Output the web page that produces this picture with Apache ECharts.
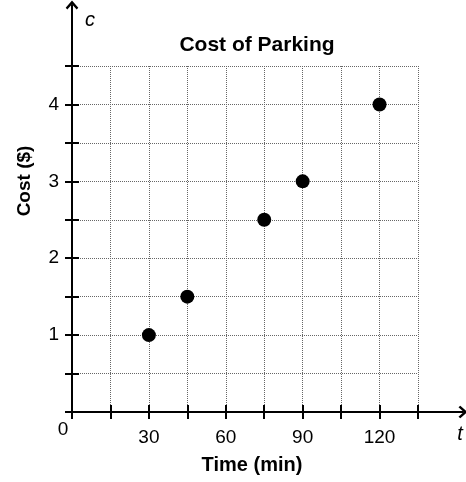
<!DOCTYPE html>
<html>
<head>
<meta charset="utf-8">
<script src="https://cdn.jsdelivr.net/npm/echarts@6/dist/echarts.min.js"></script>
<style>
html,body{margin:0;padding:0;background:#fff;}
#c{width:466px;height:482px;}
</style>
</head>
<body>
<div id="c"></div>
<script>
const timeMin = [30, 45, 75, 90, 120];
const costDollars = [1, 1.5, 2.5, 3, 4];
const xLabels = [30, 60, 90, 120];
const yLabels = [1, 2, 3, 4];

const FONT = '"Liberation Sans", Arial, sans-serif';
const chart = echarts.init(document.getElementById('c'), null, {renderer: 'canvas'});

const gridLine = {show: true, lineStyle: {color: '#666', type: [1, 1], width: 1}};
// open chevron arrow head (pointing up; ECharts rotates it along the axis)
const chevron = 'path://M0,8 L7,0 L14,8 L12.2,10 L7,4.2 L1.8,10 Z';

chart.setOption({
  animation: false,
  backgroundColor: '#fff',
  title: {
    text: 'Cost of Parking',
    left: 252, top: 30, textAlign: 'center',
    textStyle: {fontFamily: FONT, fontWeight: 'bold', fontSize: 21, color: '#000'}
  },
  grid: [
    {left: 72, right: 48, top: 66, bottom: 70, outerBoundsMode: 'none', containLabel: false},
    {left: 72, right: 3, top: 5, bottom: 70, outerBoundsMode: 'none', containLabel: false}
  ],
  xAxis: [
    {
      type: 'value', gridIndex: 0, min: 0, max: 135, interval: 15,
      axisLine: {show: false},
      axisTick: {show: true, length: 7, lineStyle: {color: '#000', width: 2}},
      axisLabel: {
        margin: 16, fontFamily: FONT, fontSize: 19, color: '#000',
        formatter: v => xLabels.indexOf(v) >= 0 ? String(v) : ''
      },
      splitLine: gridLine,
      name: 'Time (min)', nameLocation: 'middle', nameGap: 43,
      nameTextStyle: {fontFamily: FONT, fontWeight: 'bold', fontSize: 20, color: '#000', padding: [0, 0, 0, 14]}
    },
    {
      type: 'value', gridIndex: 0, min: 0, max: 135, interval: 15, position: 'bottom',
      axisLine: {show: false},
      axisTick: {show: true, inside: true, length: 7, lineStyle: {color: '#000', width: 2}},
      axisLabel: {show: false}, splitLine: {show: false}
    },
    {
      type: 'value', gridIndex: 1, min: 0, max: 1, position: 'bottom',
      axisLine: {show: true, symbol: ['none', chevron], symbolSize: [14, 9], symbolOffset: [0, 0],
        lineStyle: {color: '#000', width: 2}},
      axisTick: {show: false}, axisLabel: {show: false}, splitLine: {show: false}
    }
  ],
  yAxis: [
    {
      type: 'value', gridIndex: 0, min: 0, max: 4.5, interval: 0.5,
      axisLine: {show: false},
      axisTick: {show: true, length: 7, lineStyle: {color: '#000', width: 2}},
      axisLabel: {
        margin: 13, fontFamily: FONT, fontSize: 19, color: '#000',
        formatter: v => yLabels.indexOf(v) >= 0 ? String(v) : ''
      },
      splitLine: gridLine
    },
    {
      type: 'value', gridIndex: 0, min: 0, max: 4.5, interval: 0.5, position: 'left',
      axisLine: {show: false},
      axisTick: {show: true, inside: true, length: 7, lineStyle: {color: '#000', width: 2}},
      axisLabel: {show: false}, splitLine: {show: false}
    },
    {
      type: 'value', gridIndex: 1, min: 0, max: 1, position: 'left',
      axisLine: {show: true, symbol: ['none', chevron], symbolSize: [14, 9], symbolOffset: [0, 0],
        lineStyle: {color: '#000', width: 2}},
      axisTick: {show: false}, axisLabel: {show: false}, splitLine: {show: false}
    }
  ],
  graphic: [
    {type: 'text', x: 90, y: 20,
      style: {text: 'c', font: 'italic 20px ' + FONT, fill: '#000', align: 'center', verticalAlign: 'middle'}},
    {type: 'text', x: 460, y: 434,
      style: {text: 't', font: 'italic 20px ' + FONT, fill: '#000', align: 'center', verticalAlign: 'middle'}},
    {type: 'text', x: 63, y: 430,
      style: {text: '0', font: '19px ' + FONT, fill: '#000', align: 'center', verticalAlign: 'middle'}},
    {type: 'text', x: 25, y: 181, rotation: Math.PI / 2,
      style: {text: 'Cost ($)', font: 'bold 19px ' + FONT, fill: '#000', align: 'center', verticalAlign: 'middle'}}
  ],
  series: [{
    type: 'scatter', xAxisIndex: 0, yAxisIndex: 0,
    data: timeMin.map((t, i) => [t, costDollars[i]]),
    symbol: 'circle', symbolSize: 14,
    itemStyle: {color: '#000', opacity: 1}
  }]
});
</script>
</body>
</html>
